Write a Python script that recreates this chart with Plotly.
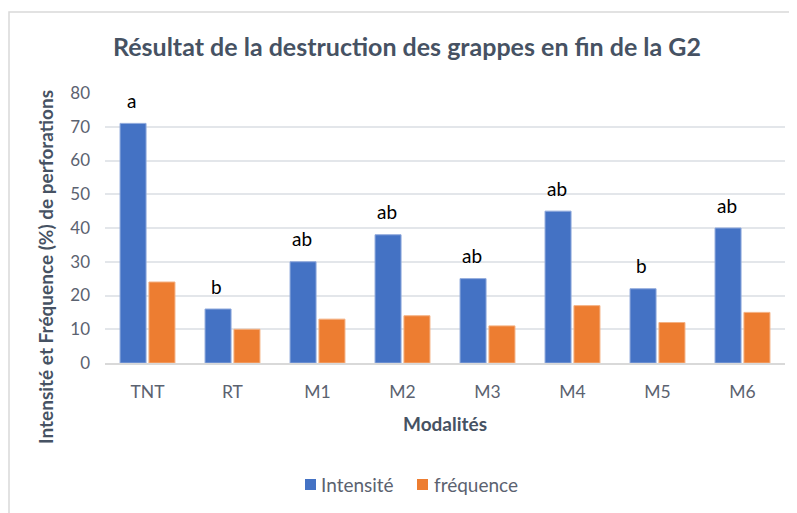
import plotly.graph_objects as go

categories = ["TNT", "RT", "M1", "M2", "M3", "M4", "M5", "M6"]
intensite = [71, 16, 30, 38, 25, 45, 22, 40]
frequence = [24, 10, 13, 14, 11, 17, 12, 15]
letters = ["a", "b", "ab", "ab", "ab", "ab", "b", "ab"]
y_ticks = [0, 10, 20, 30, 40, 50, 60, 70, 80]
series_names = ["Intensité", "fréquence"]
series_colors = ["#4472c4", "#ed7d31"]

FONT = "Lato, Open Sans, sans-serif"
TICK_COLOR = "#5b6270"
TITLE_COLOR = "#465263"

# page body has an 8px default margin; layout below compensates for it
OFF = 8
L, T = 105 - OFF, 93 - OFF
PW, PH = 680, 270


def px(x):  # page x -> paper x
    return (x - 105) / PW


def py(y):  # page y -> paper y
    return (363 - y) / PH


fig = go.Figure()
fig.add_trace(go.Bar(name=series_names[0], x=categories, y=intensite,
                     marker=dict(color=series_colors[0], line=dict(color="#8fa9dc", width=1))))
fig.add_trace(go.Bar(name=series_names[1], x=categories, y=frequence,
                     marker=dict(color=series_colors[1], line=dict(color="#f4b183", width=1))))

for c, v, t in zip(categories, intensite, letters):
    fig.add_annotation(x=c, y=v, text=t, showarrow=False, xref="x", yref="y",
                       xshift=-16, yshift=23, yanchor="middle",
                       font=dict(family=FONT, size=19, color="#000000"))

fig.add_annotation(text="<b>Intensité et Fréquence (%) de perforations</b>",
                   xref="paper", yref="paper", x=px(45), y=py(267),
                   textangle=-90, showarrow=False, xanchor="center", yanchor="middle",
                   font=dict(family=FONT, size=19, color=TITLE_COLOR))

fig.add_annotation(text="<b>Modalités</b>",
                   xref="paper", yref="paper", x=px(445), y=py(423),
                   showarrow=False, xanchor="center", yanchor="middle",
                   font=dict(family=FONT, size=19, color=TITLE_COLOR))

# manual legend
for name, col, sx, tx in zip(series_names, series_colors, [305, 417], [319, 432]):
    fig.add_shape(type="rect", xref="paper", yref="paper",
                  x0=px(sx), x1=px(sx + 11), y0=py(490), y1=py(479),
                  line=dict(width=0), fillcolor=col)
    fig.add_annotation(text=name, xref="paper", yref="paper", x=px(tx), y=py(484),
                       showarrow=False, xanchor="left", yanchor="middle",
                       font=dict(family=FONT, size=19, color=TICK_COLOR))

fig.add_shape(type="rect", xref="paper", yref="paper",
              x0=(1 - L) / PW, x1=1.2, y0=-0.8, y1=py(12),
              line=dict(color="#d9d9d9", width=1.5), fillcolor="rgba(0,0,0,0)", layer="below")

fig.update_layout(
    width=797, height=513,
    margin=dict(l=L, r=797 - L - PW, t=T, b=513 - T - PH, autoexpand=False),
    paper_bgcolor="white", plot_bgcolor="white",
    barmode="group", bargap=0.32, bargroupgap=0.1,
    title=dict(text="<b>Résultat de la destruction des grappes en fin de la G2</b>",
               x=(407 - OFF) / 797, xanchor="center", y=1 - (47 - OFF) / 513, yanchor="middle",
               font=dict(family=FONT, size=25, color=TITLE_COLOR)),
    xaxis=dict(tickfont=dict(family=FONT, size=17.5, color=TICK_COLOR),
               showline=True, linecolor="#d9d9d9", linewidth=1.5,
               ticks="", ticklabelstandoff=12, automargin=False),
    yaxis=dict(range=[0, 80], tickvals=y_ticks,
               tickfont=dict(family=FONT, size=17, color=TICK_COLOR),
               showgrid=True, gridcolor="#e3e6ea", gridwidth=1.5,
               zeroline=False, ticks="", ticklabelstandoff=14, automargin=False),
    showlegend=False,
)

fig.write_html("out.html")
